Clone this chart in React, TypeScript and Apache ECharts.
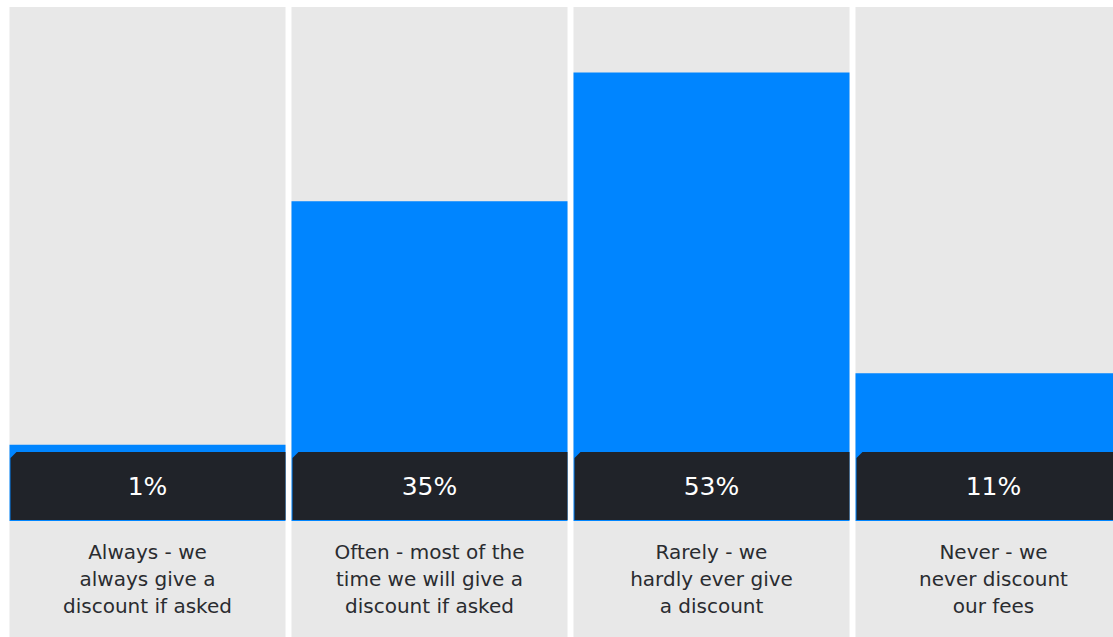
import React, { useEffect, useRef } from "react";
import * as echarts from "echarts";

const categories = [
  "Always - we\nalways give a\ndiscount if asked",
  "Often - most of the\ntime we will give a\ndiscount if asked",
  "Rarely - we\nhardly ever give\na discount",
  "Never - we\nnever discount\nour fees",
];
const values = [1, 35, 53, 11];
const valueLabels = ["1%", "35%", "53%", "11%"];

const AXIS_MIN = -25.85;
const AXIS_MAX = 62.15;
const BAND_BOTTOM = -9.64; // bottom of the dark label band (in axis units)

const BLUE = "#0085ff";
const DARK = "#202329";
const GREY = "#e8e8e8";

export default function App() {
  const ref = useRef<HTMLDivElement>(null);
  useEffect(() => {
    if (!ref.current) return;
    const chart = echarts.init(ref.current, undefined, { renderer: "svg" });
    const BAR_W = 276;
    chart.setOption({
      animation: false,
      backgroundColor: "#ffffff",
      grid: { left: 7, right: 0, top: 7, bottom: 0, containLabel: false },
      xAxis: {
        type: "category",
        data: categories,
        show: false,
      },
      yAxis: {
        type: "value",
        min: AXIS_MIN,
        max: AXIS_MAX,
        show: false,
        splitLine: { show: false },
      },
      series: [
        {
          type: "custom",
          data: values.map((v, i) => [i, v]),
          z: 2,
          renderItem: (params: any, api: any) => {
            const idx = api.value(0);
            const v = api.value(1);
            const top = api.coord([idx, v]);
            const zero = api.coord([idx, 0]);
            const bandBottom = api.coord([idx, BAND_BOTTOM]);
            const bottom = api.coord([idx, AXIS_MIN]);
            const full = api.coord([idx, AXIS_MAX]);
            const x0 = top[0] - BAR_W / 2 - 0.5;
            const x1 = x0 + BAR_W;
            const yTop = top[1];
            const y0 = zero[1];
            const yB = bandBottom[1];
            const ch = 6;
            const labelMid = (yB + bottom[1]) / 2;
            const cx = (x0 + x1) / 2;
            return {
              type: "group",
              children: [
                {
                  type: "rect",
                  shape: { x: x0, y: full[1], width: BAR_W, height: bottom[1] - full[1] },
                  style: { fill: GREY },
                },
                {
                  type: "rect",
                  shape: { x: x0, y: yTop, width: BAR_W, height: yB - yTop },
                  style: { fill: BLUE },
                },
                {
                  type: "polygon",
                  shape: {
                    points: [
                      [x0 + 1, y0 + ch],
                      [x0 + 1 + ch, y0],
                      [x1, y0],
                      [x1, yB - 1],
                      [x0 + 1, yB - 1],
                    ],
                  },
                  style: { fill: DARK },
                },
                {
                  type: "text",
                  style: {
                    text: valueLabels[params.dataIndex],
                    x: cx,
                    y: (y0 + yB) / 2,
                    align: "center",
                    verticalAlign: "middle",
                    fill: "#ffffff",
                    fontSize: 25,
                    fontFamily: "'DejaVu Sans', sans-serif",
                    fontWeight: "normal",
                  },
                },
                {
                  type: "text",
                  style: {
                    text: categories[params.dataIndex],
                    x: cx,
                    y: labelMid,
                    align: "center",
                    verticalAlign: "middle",
                    fill: "#2a2c30",
                    fontSize: 20,
                    lineHeight: 27,
                    fontFamily: "'DejaVu Sans', sans-serif",
                  },
                },
              ],
            };
          },
        },
      ],
    });
    return () => chart.dispose();
  }, []);
  return (
    <div
      style={{ position: "absolute", left: 0, top: 0, width: 1113, height: 637, overflow: "hidden" }}
    >
      <div ref={ref} style={{ width: 1135, height: 637 }} />
    </div>
  );
}
